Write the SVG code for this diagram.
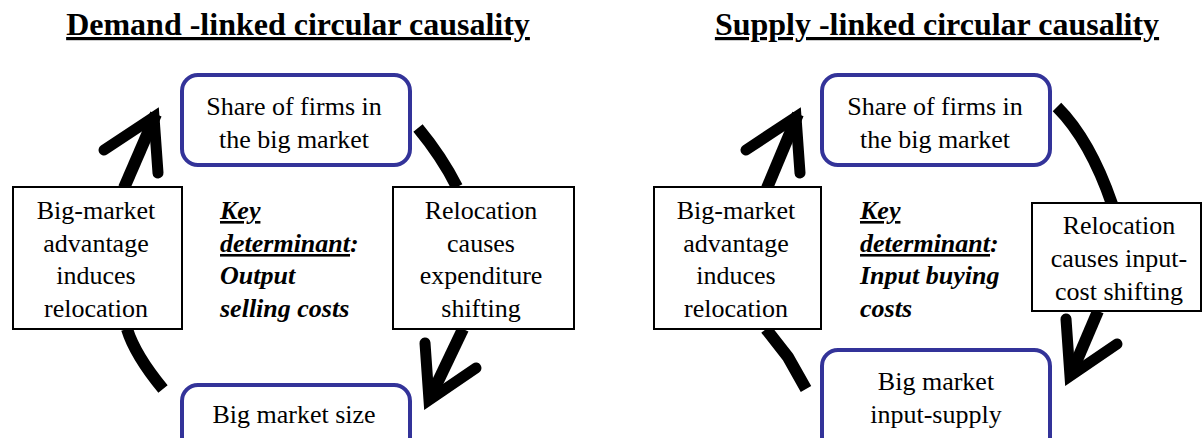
<svg xmlns="http://www.w3.org/2000/svg" width="1203" height="438" viewBox="0 0 1203 438">
<style>
text{font-family:"Liberation Serif","Times New Roman",serif;fill:#000}
.t{font-size:32px;font-weight:bold;text-decoration:underline;text-anchor:middle}
.n{font-size:26px;text-anchor:middle}
.k{font-size:26px;font-weight:bold;font-style:italic}
.u{text-decoration:underline}
.rr{fill:#fff;stroke:#333399;stroke-width:4}
.bx{fill:#fff;stroke:#000;stroke-width:2}
.c{fill:none;stroke:#000;stroke-width:12;stroke-linecap:butt}
.h{fill:none;stroke:#000;stroke-width:11;stroke-linecap:round;stroke-linejoin:miter;stroke-miterlimit:6}
</style>
<rect width="1203" height="438" fill="#fff"/>
<text class="t" x="298" y="35">Demand -linked circular causality</text>
<text class="t" x="937" y="35">Supply -linked circular causality</text>
<g id="connectors">
<!-- left diagram -->
<path class="c" d="M124,188 L156,114"/>
<polyline class="h" points="104,150 154,117 158,173"/>
<path class="c" d="M418,128 Q442,157 457,187"/>
<path class="c" d="M463,329 L431,396"/>
<polyline class="h" points="425,343 429,400 476,368"/>
<path class="c" d="M127,329 Q135,355 163,389"/>
<!-- right diagram -->
<path class="c" d="M767,188 L798,114"/>
<polyline class="h" points="746,150 796,117 800,173"/>
<path class="c" d="M1057,107 Q1090,140 1112,204"/>
<path class="c" d="M1098,311 L1072,372"/>
<polyline class="h" points="1066,319 1070,376 1117,344"/>
<path class="c" d="M766,329 L788,357 L806,389"/>
</g>
<g id="share-left">
<rect class="rr" x="182" y="75" width="228" height="90" rx="16"/>
<text class="n" x="294" y="115">Share of firms in</text>
<text class="n" x="294" y="148">the big market</text>
</g>
<g id="advantage-left">
<rect class="bx" x="13" y="187" width="169" height="142"/>
<text class="n" x="96" y="219">Big-market</text>
<text class="n" x="96" y="252">advantage</text>
<text class="n" x="96" y="284">induces</text>
<text class="n" x="96" y="317">relocation</text>
</g>
<g id="relocation-left">
<rect class="bx" x="393" y="187" width="181" height="142"/>
<text class="n" x="481" y="219">Relocation</text>
<text class="n" x="481" y="252">causes</text>
<text class="n" x="481" y="284">expenditure</text>
<text class="n" x="481" y="317">shifting</text>
</g>
<g id="size-left">
<rect class="rr" x="182" y="385" width="228" height="90" rx="16"/>
<text class="n" x="294" y="423">Big market size</text>
</g>
<g id="key-left">
<text class="k" x="220" y="219"><tspan class="u">Key</tspan></text>
<text class="k" x="220" y="252"><tspan class="u">determinant</tspan>:</text>
<text class="k" x="220" y="284">Output</text>
<text class="k" x="220" y="317">selling costs</text>
</g>
<g id="share-right">
<rect class="rr" x="822" y="75" width="228" height="90" rx="16"/>
<text class="n" x="935" y="115">Share of firms in</text>
<text class="n" x="935" y="148">the big market</text>
</g>
<g id="advantage-right">
<rect class="bx" x="654" y="187" width="167" height="142"/>
<text class="n" x="736" y="219">Big-market</text>
<text class="n" x="736" y="252">advantage</text>
<text class="n" x="736" y="284">induces</text>
<text class="n" x="736" y="317">relocation</text>
</g>
<g id="relocation-right">
<rect class="bx" x="1032" y="203" width="169" height="108"/>
<text class="n" x="1119" y="234">Relocation</text>
<text class="n" x="1119" y="267">causes input-</text>
<text class="n" x="1119" y="300">cost shifting</text>
</g>
<g id="supply-right">
<rect class="rr" x="822" y="350" width="228" height="120" rx="16"/>
<text class="n" x="936" y="390">Big market</text>
<text class="n" x="936" y="423">input-supply</text>
</g>
<g id="key-right">
<text class="k" x="860" y="219"><tspan class="u">Key</tspan></text>
<text class="k" x="860" y="252"><tspan class="u">determinant</tspan>:</text>
<text class="k" x="860" y="284">Input buying</text>
<text class="k" x="860" y="317">costs</text>
</g>
</svg>
